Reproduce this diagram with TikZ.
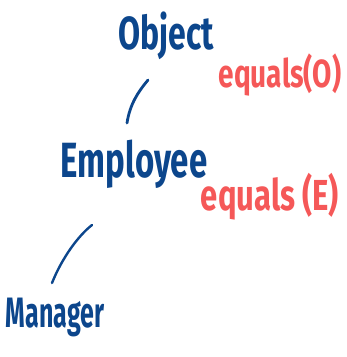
\documentclass[tikz,border=0pt]{standalone}
\usepackage{fontspec}
\setmainfont{Fira Sans}
\definecolor{inkblue}{RGB}{12,70,140}
\definecolor{inkred}{RGB}{245,88,88}
\newcommand{\tallink}[2]{\scalebox{1}[#1]{#2}}
\begin{document}
\begin{tikzpicture}[x=1pt,y=-1pt,
  cls/.style={text=inkblue,inner sep=0pt,font=\fontsize{32}{36}\selectfont\bfseries},
  meth/.style={text=inkred,inner sep=0pt,font=\fontsize{28}{34}\selectfont\bfseries},
  link/.style={draw=inkblue,line width=2.8pt,line cap=round}]
\useasboundingbox (0,0) rectangle (347,357);
\node[cls] (obj) at (166,36) {\tallink{1.45}{Object}};
\node[meth] (eqo) at (280,75) {\tallink{1.4}{equals(O)}};
\node[cls,font=\fontsize{33}{36}\selectfont\bfseries] (emp) at (134,164) {\tallink{1.5}{Employee}};
\node[meth,font=\fontsize{31}{34}\selectfont\bfseries] (eqe) at (270,197) {\tallink{1.4}{equals (E)}};
\node[cls,font=\fontsize{25}{30}\selectfont\bfseries] (mgr) at (55,317) {\tallink{1.7}{Manager}};
\coordinate (a1) at (148,80);
\coordinate (a2) at (127,123);
\coordinate (b1) at (92,225);
\coordinate (b2) at (52,283);
\draw[link] (a1) .. controls (138,92) and (130,104) .. (a2);
\draw[link,line width=2.4pt] (b1) .. controls (78,236) and (62,258) .. (b2);
\end{tikzpicture}
\end{document}
